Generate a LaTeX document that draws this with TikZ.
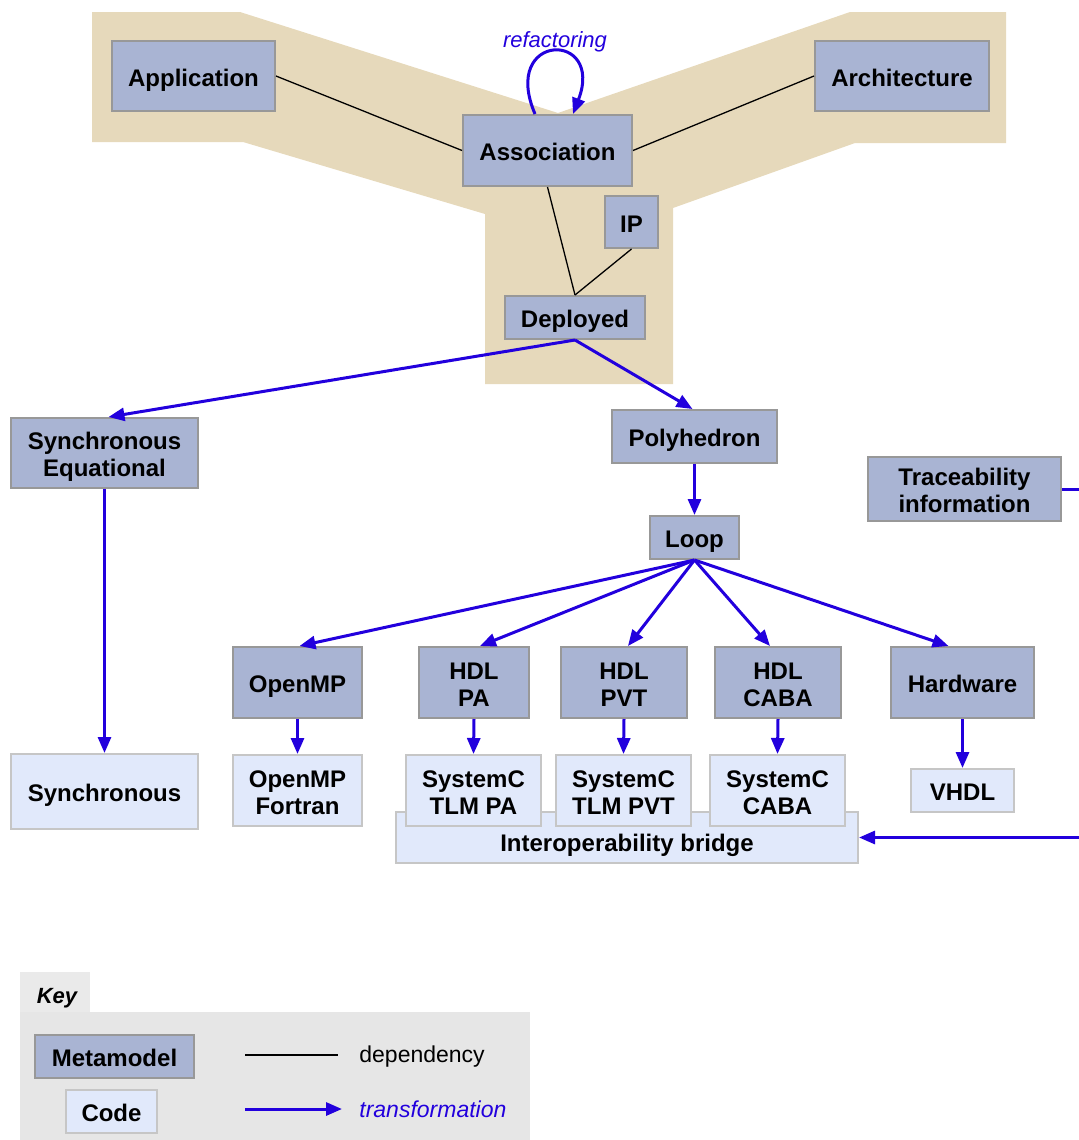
\documentclass[tikz,border=0pt]{standalone}
\usepackage{fontspec}
\setmainfont{Liberation Sans}
\usetikzlibrary{arrows.meta}
\definecolor{meta}{HTML}{A9B4D3}
\definecolor{metab}{HTML}{989898}
\definecolor{codef}{HTML}{E1E9FB}
\definecolor{codeb}{HTML}{C6C6C6}
\definecolor{tanbg}{HTML}{E6D9BB}
\definecolor{tblue}{HTML}{2200DD}
\definecolor{keybg}{HTML}{E6E6E6}
\definecolor{keytab}{HTML}{EAEAEA}
\newcommand{\bs}{\rule[-2.6pt]{0pt}{15.2pt}}
\newcommand{\be}{\rule[-2.6pt]{0pt}{2.6pt}}
\begin{document}
\begin{tikzpicture}[x=0.5pt,y=-0.5pt,
  boxbase/.style={line width=1pt, inner sep=0pt, align=center,
    font=\fontsize{12}{13.5}\selectfont\bfseries},
  mm/.style={boxbase, draw=metab, fill=meta},
  cd/.style={boxbase, draw=codeb, fill=codef},
  dep/.style={line width=0.65pt, black},
  trans/.style={line width=1.5pt, tblue, -{Triangle[length=8pt,width=6.5pt]}},
  lbl/.style={inner sep=0pt, font=\fontsize{11.5}{13}\selectfont},
]
\useasboundingbox (0,0) rectangle (1078,1140);

% tan background
\fill[tanbg] (92,12) -- (240,12) -- (558,113) -- (850,12) -- (1006,12) -- (1006,143)
  -- (855,143) -- (673,208) -- (673,384) -- (485,384) -- (485,214) -- (243,142)
  -- (92,142) -- cycle;

% metamodel nodes
\node[mm, minimum width=81.5pt, minimum height=35pt] (app) at (193.5,76) {\bs Application};
\node[mm, minimum width=84.5pt, minimum height=35.5pt] (assoc) at (547.5,150.5) {\bs Association};
\node[mm, minimum width=87pt, minimum height=35pt] (arch) at (902,76) {\bs Architecture};
\node[mm, minimum width=26.5pt, minimum height=26pt] (ip) at (631.5,222) {\bs IP};
\node[mm, minimum width=70pt, minimum height=21.5pt] (dep) at (575,317.5) {\bs Deployed};
\node[mm, minimum width=93.5pt, minimum height=35pt] (synceq) at (104.5,453) {\bs Synchronous\\Equational\be};
\node[mm, minimum width=82.5pt, minimum height=26.5pt] (poly) at (694.5,436.5) {\bs Polyhedron};
\node[mm, minimum width=96.5pt, minimum height=32pt] (trace) at (964.5,489) {\bs Traceability\\information\be};
\node[mm, minimum width=44.5pt, minimum height=21.5pt] (loop) at (694.5,537.5) {\bs Loop};
\node[mm, minimum width=64.5pt, minimum height=35.5pt] (omp) at (297.5,682.5) {\bs OpenMP};
\node[mm, minimum width=55pt, minimum height=35.5pt] (hpa) at (474,682.5) {\bs HDL\\PA\be};
\node[mm, minimum width=63pt, minimum height=35.5pt] (hpvt) at (624,682.5) {\bs HDL\\PVT\be};
\node[mm, minimum width=63pt, minimum height=35.5pt] (hcaba) at (778,682.5) {\bs HDL\\CABA\be};
\node[mm, minimum width=71.5pt, minimum height=35.5pt] (hw) at (962.5,682.5) {\bs Hardware};

% code nodes
\node[cd, minimum width=93.5pt, minimum height=37.5pt] (sync) at (104.5,791.5) {\bs Synchronous};
\node[cd, minimum width=64.5pt, minimum height=35.5pt] (ompf) at (297.5,790.5) {\bs OpenMP\\Fortran\be};
\node[cd, minimum width=231pt, minimum height=25.5pt, text height=14pt, text depth=0.5pt] (bridge) at (627,837.5) {Interoperability bridge};
\node[cd, minimum width=67.5pt, minimum height=35.5pt] (scpa) at (473.5,790.5) {\bs SystemC\\TLM PA\be};
\node[cd, minimum width=67.5pt, minimum height=35.5pt] (scpvt) at (623.5,790.5) {\bs SystemC\\TLM PVT\be};
\node[cd, minimum width=67.5pt, minimum height=35.5pt] (sccaba) at (777.5,790.5) {\bs SystemC\\CABA\be};
\node[cd, minimum width=51.5pt, minimum height=21.5pt] (vhdl) at (962.5,790.5) {\bs VHDL};

% dependencies
\draw[dep] (app.east) -- (assoc.west);
\draw[dep] (arch.west) -- (assoc.east);
\draw[dep] (assoc.south) -- (dep.north);
\draw[dep] (ip.south) -- (dep.north);

% refactoring loop
\draw[trans] ([xshift=-6.25pt]assoc.north) .. controls +(-35,-82) and +(32,-84) .. ([xshift=12.75pt]assoc.north);
\node[lbl, anchor=base, text=tblue, font=\fontsize{11}{13}\selectfont\itshape] (refl) at (555,47) {refactoring};

% transformations
\draw[trans] (dep.south) -- ([xshift=2pt]synceq.north);
\draw[trans] (dep.south) -- ([xshift=-1pt]poly.north);
\draw[trans] (synceq.south) -- (sync.north);
\draw[trans] (poly.south) -- (loop.north);
\draw[trans] (loop.south) -- ([xshift=1pt]omp.north);
\draw[trans] (loop.south) -- ([xshift=3pt]hpa.north);
\draw[trans] (loop.south) -- ([xshift=2pt]hpvt.north);
\draw[trans] (loop.south) -- ([xshift=-4pt]hcaba.north);
\draw[trans] (loop.south) -- ([xshift=-7pt]hw.north);
\draw[trans] (omp.south) -- (ompf.north);
\draw[trans] (hpa.south) -- (scpa.north);
\draw[trans] (hpvt.south) -- (scpvt.north);
\draw[trans] (hcaba.south) -- (sccaba.north);
\draw[trans] (hw.south) -- (vhdl.north);
\draw[trans] (trace.east) -- ++(60,0) |- (bridge.east);

% key
\fill[keytab] (20,972) rectangle (90,1012);
\fill[keybg] (20,1012) rectangle (530,1140);
\node[lbl, anchor=base, font=\fontsize{11}{13}\selectfont\bfseries\itshape] (keyt) at (57,1003) {Key};
\node[mm, minimum width=79.5pt, minimum height=21.5pt] (kmeta) at (114.5,1056.5) {\bs Metamodel};
\node[cd, minimum width=45.5pt, minimum height=21.5pt] (kcode) at (111.5,1111.5) {\bs Code};
\coordinate (d1) at (245,1055);
\coordinate (d2) at (338,1055);
\coordinate (t1) at (245,1109);
\coordinate (t2) at (342,1109);
\draw[dep] (d1) -- (d2);
\draw[trans] (t1) -- (t2);
\node[lbl, anchor=base west] (kdep) at (359,1062) {dependency};
\node[lbl, anchor=base west, text=tblue, font=\fontsize{11.5}{13}\selectfont\itshape] (ktr) at (359,1117) {transformation};
\end{tikzpicture}
\end{document}
